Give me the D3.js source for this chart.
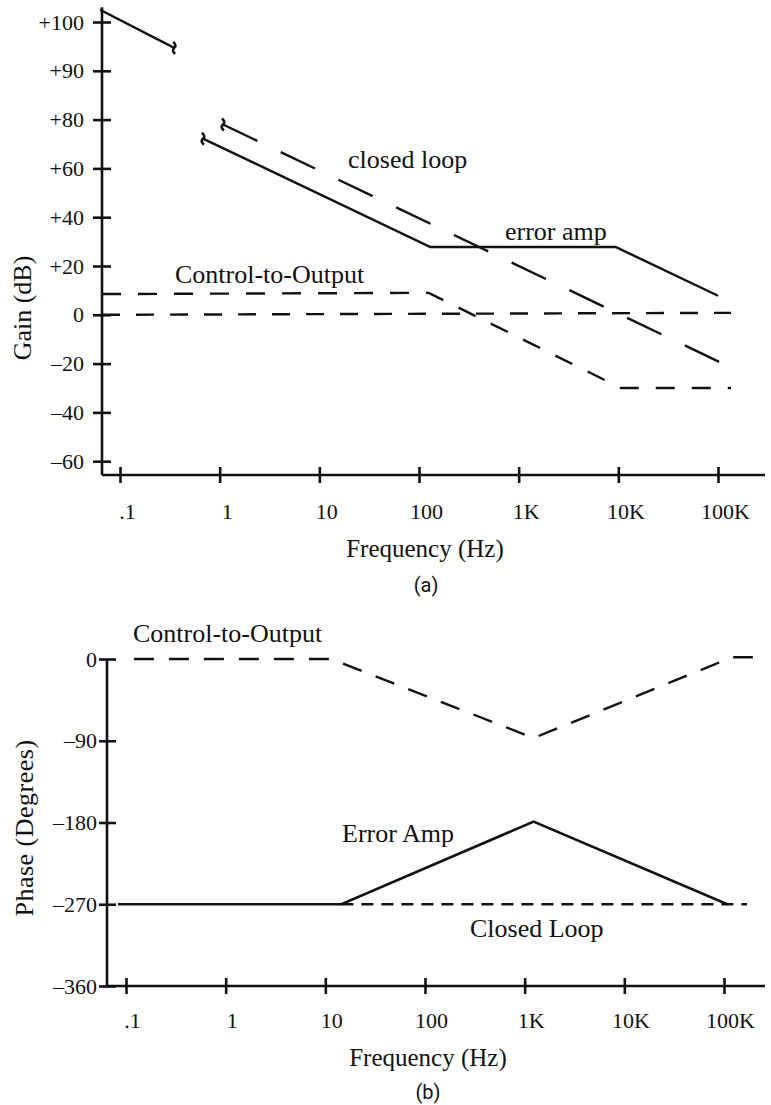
<!DOCTYPE html>
<html>
<head>
<meta charset="utf-8">
<script src="https://cdn.jsdelivr.net/npm/d3@7"></script>
<style>
  body { margin: 0; background: #fff; }
  text { fill: #111; }
</style>
</head>
<body>
<div class="my_div"></div>
<script>
// Frequency axis (shared by both plots)
var freqTicks = [0.1, 1, 10, 100, 1e3, 1e4, 1e5];
var freqLabels = [".1", "1", "10", "100", "1K", "10K", "100K"];

// Gain plot (a) - the axis is not uniform, every label gets the same spacing
var gainTicks = [100, 90, 80, 60, 40, 20, 0, -20, -40, -60];
var gainLabels = ["+100", "+90", "+80", "+60", "+40", "+20", "0", "\u201320", "\u201340", "\u201360"];

// [frequency Hz, gain dB]
var errorAmpHigh = [[0.063, 102.5], [0.35, 94.7]];
var errorAmpGain = [[0.68, 72.2], [130, 27.8], [9400, 27.8], [100000, 7.8]];
var closedLoopGain = [[1.08, 78], [135000, -21.6]];
var controlGain = [[0.066, 8.5], [125, 9], [10600, -30], [135000, -30]];
var unityGain = [[0.066, 0], [135000, 0.8]];
var gainBreaks = [[0.35, 94.7], [0.68, 72.2], [1.08, 78]];

// Phase plot (b)
var phaseTicks = [0, -90, -180, -270, -360];
var phaseLabels = ["0", "\u201390", "\u2013180", "\u2013270", "\u2013360"];

// [frequency Hz, phase degrees]
var controlPhase = [[0.12, 0], [11.5, 0], [1230, -87], [121000, 2], [195000, 2]];
var errorAmpPhase = [[0.083, -270], [14.5, -270], [1230, -179], [108000, -270]];
var closedLoopPhase = [[14.5, -270], [170000, -270]];

var width = 771,
    height = 1105;

var serif = "'Liberation Serif', 'Times New Roman', 'DejaVu Serif', serif";
var ink = "#111";

var svg = d3.select(".my_div")
    .append("svg")
    .attr("width", width)
    .attr("height", height);

svg.append("rect")
    .attr("width", width)
    .attr("height", height)
    .attr("fill", "#fff");

// ---------- (a) Gain ----------
var xGain = d3.scaleLog()
    .domain([0.1, 1e5])
    .range([120, 718]);

// one step per label, so use a piecewise scale over the tick values
var gainRange = gainTicks.map((d, i) => 22 + i * 48.8);
var yGain = d3.scaleLinear()
    .domain(gainTicks)
    .range(gainRange);

var gainAxisX = 102,
    gainAxisY = 475;

var gA = svg.append("g");

// axis lines
gA.append("line")
    .attr("x1", gainAxisX).attr("x2", gainAxisX)
    .attr("y1", yGain(103)).attr("y2", gainAxisY)
    .attr("stroke", ink).attr("stroke-width", 2.6);

gA.append("line")
    .attr("x1", gainAxisX).attr("x2", 765)
    .attr("y1", gainAxisY).attr("y2", gainAxisY)
    .attr("stroke", ink).attr("stroke-width", 2.6);

var yAxisA = gA.append("g")
    .attr("transform", "translate(" + gainAxisX + ",0)")
    .call(d3.axisLeft(yGain).tickValues(gainTicks)
        .tickFormat((d, i) => gainLabels[i]).tickSize(9));
yAxisA.select(".domain").remove();
yAxisA.selectAll(".tick line").attr("x1", 9).attr("stroke", ink).attr("stroke-width", 2.6);
yAxisA.selectAll(".tick text")
    .attr("x", -18)
    .style("font-size", "22px")
    .style("font-family", serif);

var xAxisA = gA.append("g")
    .attr("transform", "translate(0," + gainAxisY + ")")
    .call(d3.axisBottom(xGain).tickValues(freqTicks)
        .tickFormat((d, i) => freqLabels[i]).tickSize(8));
xAxisA.select(".domain").remove();
xAxisA.selectAll(".tick line").attr("y1", -8).attr("stroke", ink).attr("stroke-width", 2.6);
xAxisA.selectAll(".tick text")
    .attr("x", 7)
    .attr("y", 44)
    .attr("dy", 0)
    .style("font-size", "22px")
    .style("font-family", serif);

var lineA = d3.line()
    .x((d) => xGain(d[0]))
    .y((d) => yGain(d[1]));

gA.append("path").datum(errorAmpHigh)
    .attr("d", lineA).attr("fill", "none")
    .attr("stroke", ink).attr("stroke-width", 2.4);

gA.append("path").datum(errorAmpGain)
    .attr("d", lineA).attr("fill", "none")
    .attr("stroke", ink).attr("stroke-width", 2.4);

gA.append("path").datum(closedLoopGain)
    .attr("d", lineA).attr("fill", "none")
    .attr("stroke", ink).attr("stroke-width", 2.4)
    .attr("stroke-dasharray", "38,26");

gA.append("path").datum(controlGain)
    .attr("d", lineA).attr("fill", "none")
    .attr("stroke", ink).attr("stroke-width", 2.4)
    .attr("stroke-dasharray", "19,17");

gA.append("path").datum(unityGain)
    .attr("d", lineA).attr("fill", "none")
    .attr("stroke", ink).attr("stroke-width", 2.4)
    .attr("stroke-dasharray", "18,16");

// little hooks where the curves are broken
gA.selectAll(".brk")
    .data(gainBreaks)
    .enter()
    .append("path")
    .attr("class", "brk")
    .attr("transform", (d) => "translate(" + xGain(d[0]) + "," + yGain(d[1]) + ")")
    .attr("d", "M-1,-6 Q3,-2 0,0 Q-3,3 1,6")
    .attr("fill", "none")
    .attr("stroke", ink)
    .attr("stroke-width", 2.6);

var labelsA = gA.append("g")
    .style("font-family", serif)
    .style("font-size", "26px");

labelsA.append("text")
    .text("Gain (dB)")
    .attr("transform", "translate(31,308) rotate(-90)")
    .attr("text-anchor", "middle");

labelsA.append("text").text("closed loop")
    .attr("x", 348).attr("y", 168);
labelsA.append("text").text("error amp")
    .attr("x", 505).attr("y", 240);
labelsA.append("text").text("Control-to-Output")
    .attr("x", 175).attr("y", 283);

labelsA.append("text").text("Frequency (Hz)")
    .attr("x", 425).attr("y", 557)
    .attr("text-anchor", "middle")
    .style("font-size", "25px");

gA.append("text").text("(a)")
    .attr("x", 426).attr("y", 592)
    .attr("text-anchor", "middle")
    .style("font-size", "20px")
    .style("font-family", "Roboto, 'DejaVu Sans', sans-serif");

// ---------- (b) Phase ----------
var xPhase = d3.scaleLog()
    .domain([0.1, 1e5])
    .range([126, 724]);

var yPhase = d3.scaleLinear()
    .domain([0, -360])
    .range([659, 986]);

var phaseAxisX = 107,
    phaseAxisY = 986;

var gB = svg.append("g");

gB.append("line")
    .attr("x1", phaseAxisX).attr("x2", phaseAxisX)
    .attr("y1", yPhase(0)).attr("y2", phaseAxisY)
    .attr("stroke", ink).attr("stroke-width", 2.6);

gB.append("line")
    .attr("x1", phaseAxisX).attr("x2", 765)
    .attr("y1", phaseAxisY).attr("y2", phaseAxisY)
    .attr("stroke", ink).attr("stroke-width", 2.6);

var yAxisB = gB.append("g")
    .attr("transform", "translate(" + phaseAxisX + ",0)")
    .call(d3.axisLeft(yPhase).tickValues(phaseTicks)
        .tickFormat((d, i) => phaseLabels[i]).tickSize(8));
yAxisB.select(".domain").remove();
yAxisB.selectAll(".tick line").attr("x1", 9).attr("stroke", ink).attr("stroke-width", 2.6);
yAxisB.selectAll(".tick text")
    .attr("x", -10)
    .style("font-size", "22px")
    .style("font-family", serif);

var xAxisB = gB.append("g")
    .attr("transform", "translate(0," + phaseAxisY + ")")
    .call(d3.axisBottom(xPhase).tickValues(freqTicks)
        .tickFormat((d, i) => freqLabels[i]).tickSize(8));
xAxisB.select(".domain").remove();
xAxisB.selectAll(".tick line").attr("y1", -8).attr("stroke", ink).attr("stroke-width", 2.6);
xAxisB.selectAll(".tick text")
    .attr("x", 6)
    .attr("y", 42)
    .attr("dy", 0)
    .style("font-size", "22px")
    .style("font-family", serif);

var lineB = d3.line()
    .x((d) => xPhase(d[0]))
    .y((d) => yPhase(d[1]));

gB.append("path").datum(closedLoopPhase)
    .attr("d", lineB).attr("fill", "none")
    .attr("stroke", ink).attr("stroke-width", 2.4)
    .attr("stroke-dasharray", "12,8");

gB.append("path").datum(errorAmpPhase)
    .attr("d", lineB).attr("fill", "none")
    .attr("stroke", ink).attr("stroke-width", 2.6);

gB.append("path").datum(controlPhase)
    .attr("d", lineB).attr("fill", "none")
    .attr("stroke", ink).attr("stroke-width", 2.4)
    .attr("stroke-dasharray", "20,15");

var labelsB = gB.append("g")
    .style("font-family", serif)
    .style("font-size", "26px");

labelsB.append("text")
    .text("Phase (Degrees)")
    .attr("transform", "translate(33,828) rotate(-90)")
    .attr("text-anchor", "middle")
    .attr("letter-spacing", 0.5);

labelsB.append("text").text("Control-to-Output")
    .attr("x", 133).attr("y", 642);
labelsB.append("text").text("Error Amp")
    .attr("x", 342).attr("y", 842);
labelsB.append("text").text("Closed Loop")
    .attr("x", 470).attr("y", 937);

labelsB.append("text").text("Frequency (Hz)")
    .attr("x", 428).attr("y", 1066)
    .attr("text-anchor", "middle")
    .style("font-size", "25px");

gB.append("text").text("(b)")
    .attr("x", 428).attr("y", 1099)
    .attr("text-anchor", "middle")
    .style("font-size", "20px")
    .style("font-family", "Roboto, 'DejaVu Sans', sans-serif");
</script>
</body>
</html>
